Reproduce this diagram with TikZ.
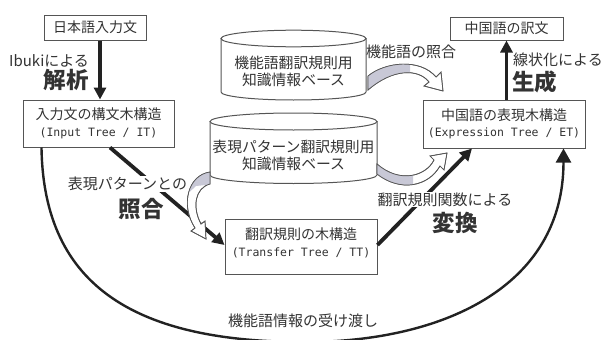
\documentclass[tikz,border=0pt]{standalone}
\usepackage{fontspec}
\setmainfont{Noto Sans CJK JP}
\newfontfamily\monof{DejaVu Sans Mono}
\usetikzlibrary{arrows.meta,calc}
\definecolor{ink}{HTML}{222222}
\definecolor{txt}{HTML}{333333}
\definecolor{edge}{HTML}{555555}
\definecolor{rib}{HTML}{C8C8D6}
\newcommand\bxf{\fontsize{14}{16.5}\selectfont}
\newcommand\cyf{\fontsize{14.8}{17}\selectfont}
\newcommand\lbf{\fontsize{15}{17}\selectfont}
\newcommand\bgf{\fontsize{22.5}{24}\selectfont\bfseries}
\newcommand\mnf{\monof\fontsize{11.5}{16.5}\selectfont}
\newcommand\ribA{(368,76) .. controls (385,62) and (420,58) .. (436,77) -- (441,72) -- (443,91) -- (424,86) -- (429,82) .. controls (418,68) and (392,69) .. (368,90) -- cycle}
\newcommand\ribB{(210,172) .. controls (188,175) and (180,205) .. (195,228) -- (191,231) -- (206,239) -- (205,221) -- (201,224) .. controls (192,207) and (195,188) .. (210,184) -- cycle}
\newcommand\ribC{(377,174) .. controls (400,192) and (428,187) .. (440,166) -- (444,170) -- (447,153) -- (430,156) -- (434,160) .. controls (426,176) and (400,184) .. (377,164) -- cycle}
\begin{document}
\begin{tikzpicture}[x=1pt,y=-1pt,
  box/.style={draw=edge, line width=1pt, fill=white, text=txt, font=\bxf, align=center, inner sep=0pt},
  lab/.style={text=txt, font=\lbf, inner sep=1pt},
  big/.style={text=txt, font=\bgf, inner sep=0pt},
  thk/.style={draw=ink, line width=3.8pt, -{Triangle[length=12pt,width=12pt]}},
  arc/.style={draw=ink, line width=2.4pt, -{Triangle[length=14pt,width=15pt]}},
  cylb/.style={draw=edge, line width=1pt, fill=white},
  ribbon/.style={draw=edge, line width=0.7pt, fill=white}]
\useasboundingbox (0,0) rectangle (608,340);
\fill[white] (0,0) rectangle (608,340);

% boxes
\node[box, minimum width=102pt, minimum height=25pt] (in) at (95,27.5) {日本語入力文};
\node[box, minimum width=151pt, minimum height=47pt] (IT) at (98.5,123.5) {入力文の構文木構造\\{\mnf (Input Tree / IT)}};
\node[box, minimum width=113pt, minimum height=23pt] (out) at (506.5,28.5) {中国語の訳文};
\node[box, minimum width=162pt, minimum height=48pt] (ET) at (504,124) {中国語の表現木構造\\{\mnf (Expression Tree / ET)}};
\node[box, minimum width=152pt, minimum height=55pt] (TT) at (301,247) {};
\node[text=txt, font=\bxf, align=center, inner sep=0pt] (TTt) at (301,243) {翻訳規則の木構造\\{\mnf (Transfer Tree / TT)}};

% cylinders
\path[cylb] (221,38.5) -- (221,92) arc[start angle=180, end angle=360, x radius=72.5pt, y radius=8pt] -- (366,38.5) -- cycle;
\draw[cylb] (293.5,38.5) ellipse[x radius=72.5pt, y radius=8.3pt];
\node[text=txt, font=\cyf, align=center, inner sep=0pt] (kb1) at (293.5,71.5) {機能語翻訳規則用\\知識情報ベース};
\path[cylb] (210,121.5) -- (210,175) arc[start angle=180, end angle=360, x radius=83.5pt, y radius=8.5pt] -- (377,121.5) -- cycle;
\draw[cylb] (293.5,121.5) ellipse[x radius=83.5pt, y radius=8.5pt];
\node[text=txt, font=\cyf, align=center, inner sep=0pt] (kb2) at (293.5,155) {表現パターン翻訳規則用\\知識情報ベース};

% straight arrows
\draw[thk] ([xshift=5pt]in.south) -- ([xshift=5pt]in.south |- IT.north);
\draw[thk] (out.south |- ET.north) -- (out.south);
\draw[thk] ([xshift=11.5pt]IT.south) -- ([yshift=2pt]TT.west);
\draw[thk] ([yshift=2pt]TT.east) -- ([xshift=-32pt]ET.south);

% big curve
\draw[arc] ([xshift=19pt]IT.south west) .. controls +(2,142) and +(-165,0) .. (305,342) .. controls +(135,0) and +(0,140) .. ([xshift=-22pt]ET.south east);

% labels
\node[lab, anchor=west] (ibk) at (8,61) {Ibukiによる};
\node[big] (kaiseki) at (66,80) {解析};
\node[lab] (kinou) at (411,52) {機能語の照合};
\node[lab, anchor=west] (senjou) at (512,60) {線状化による};
\node[big, anchor=west] (seisei) at (512,82) {生成};
\node[lab, fill=white] (hyougen) at (127.5,184) {表現パターンとの};
\node[big] (shougou) at (141,209) {照合};
\node[lab, fill=white] (kansu) at (445,199.5) {翻訳規則関数による};
\node[big] (henkan) at (455,223) {変換};
\node[lab] (ukewatashi) at (303,321) {機能語情報の受け渡し};

% ribbon arrows
\path[ribbon] \ribA;
\begin{scope}\clip (360,50) rectangle (410,96); \fill[rib] \ribA; \end{scope}
\draw[edge, line width=0.7pt] \ribA;
\path[ribbon] \ribB;
\begin{scope}\clip (175,160) -- (215,160) -- (215,184) -- (196,186) -- (183,198) -- (175,198) -- cycle; \fill[rib] \ribB; \end{scope}
\draw[edge, line width=0.7pt] \ribB;
\path[ribbon] \ribC;
\begin{scope}\clip (370,150) rectangle (413,200); \fill[rib] \ribC; \end{scope}
\draw[edge, line width=0.7pt] \ribC;
\end{tikzpicture}
\end{document}
